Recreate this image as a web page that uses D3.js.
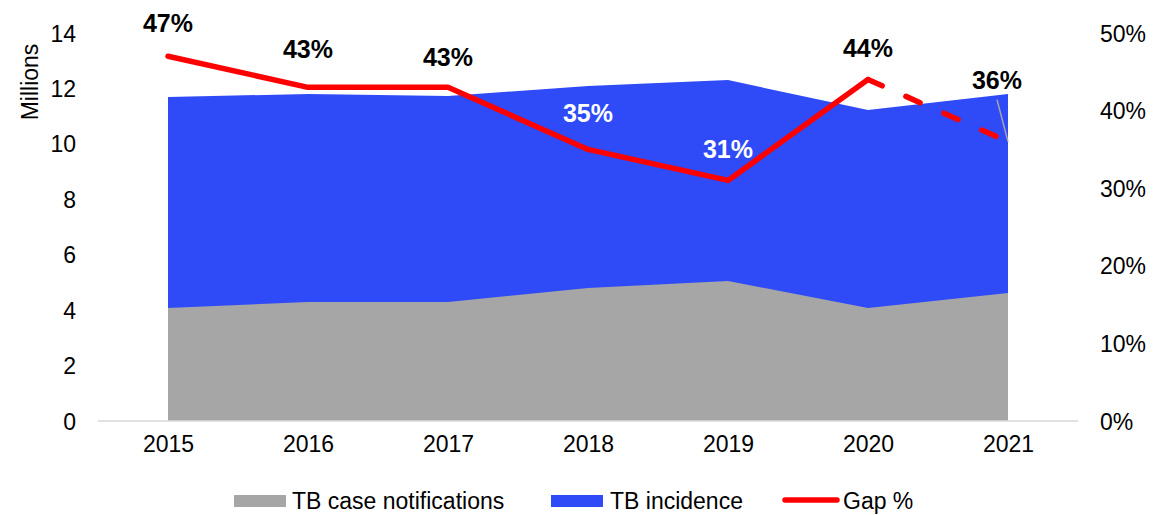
<!DOCTYPE html>
<html>
<head>
<meta charset="utf-8">
<script src="https://cdn.jsdelivr.net/npm/d3@7/dist/d3.min.js"></script>
<style>
  html, body { margin: 0; padding: 0; background: #fff; }
  svg { display: block; font-family: "Liberation Sans", Arial, sans-serif; }
</style>
</head>
<body>
<svg id="chart" width="1153" height="515"></svg>
<script>
// TB notifications vs. estimated incidence (millions), with the detection gap
const years = ["2015", "2016", "2017", "2018", "2019", "2020", "2021"];
const notifications = [4.08, 4.29, 4.29, 4.80, 5.05, 4.08, 4.62];
const incidence = [11.69, 11.80, 11.73, 12.09, 12.30, 11.22, 11.80];
const gapPct = [47, 43, 43, 35, 31, 44, 36];
const leftTicks = [0, 2, 4, 6, 8, 10, 12, 14];
const rightTicks = [0, 10, 20, 30, 40, 50];

const svg = d3.select("#chart");
const plot = { left: 98, right: 1078, top: 33, bottom: 421 };
const FS = 23;      // axis / legend text size
const FS_LBL = 25;  // data label size

const COLORS = {
  notif: "#a6a6a6",
  inc: "#2f4bf8",
  gap: "#ff0000",
  axis: "#d9d9d9",
  text: "#000"
};

const x = d3.scalePoint().domain(years).range([plot.left, plot.right]).padding(0.5);
const y = d3.scaleLinear().domain([0, 14]).range([plot.bottom, plot.top]);
const y2 = d3.scaleLinear().domain([0, 50]).range([plot.bottom, plot.top]);

const rows = years.map((yr, i) => ({ yr, n: notifications[i], inc: incidence[i], g: gapPct[i] }));

// incidence area (drawn behind), notifications area on top
const areaInc = d3.area().x(d => x(d.yr)).y0(y(0)).y1(d => y(d.inc));
const areaNot = d3.area().x(d => x(d.yr)).y0(y(0)).y1(d => y(d.n));
svg.append("path").datum(rows).attr("d", areaInc).attr("fill", COLORS.inc);
svg.append("path").datum(rows).attr("d", areaNot).attr("fill", COLORS.notif);

// category baseline
svg.append("line")
  .attr("x1", plot.left).attr("x2", plot.right)
  .attr("y1", plot.bottom).attr("y2", plot.bottom)
  .attr("stroke", COLORS.axis).attr("stroke-width", 1.5);

function styleTicks(g) {
  g.select(".domain").remove();
  g.selectAll("text").attr("font-size", FS).attr("fill", COLORS.text)
    .attr("font-family", "'Liberation Sans', Arial, sans-serif");
}

// left axis
const gy = svg.append("g").attr("transform", "translate(76,0)")
  .call(d3.axisLeft(y).tickValues(leftTicks).tickSize(0).tickPadding(0));
styleTicks(gy);
gy.selectAll("text").attr("dy", "0.35em");

// right axis
const gy2 = svg.append("g").attr("transform", "translate(1100,0)")
  .call(d3.axisRight(y2).tickValues(rightTicks).tickSize(0).tickPadding(0).tickFormat(d => d + "%"));
styleTicks(gy2);
gy2.selectAll("text").attr("dy", "0.35em");

// bottom axis
const gx = svg.append("g").attr("transform", `translate(0,${plot.bottom})`)
  .call(d3.axisBottom(x).tickSize(0).tickPadding(0));
styleTicks(gx);
gx.selectAll("text").attr("dy", "1.35em");

// y title
svg.append("text")
  .attr("transform", "translate(38,82) rotate(-90)")
  .attr("text-anchor", "middle")
  .attr("font-size", FS)
  .text("Millions");

// gap line: solid through 2020, dashed for 2021
const line = d3.line().x(d => x(d.yr)).y(d => y2(d.g));
svg.append("path").datum(rows.slice(0, 6)).attr("d", line)
  .attr("fill", "none").attr("stroke", COLORS.gap).attr("stroke-width", 5.5)
  .attr("stroke-linejoin", "round").attr("stroke-linecap", "round");
svg.append("path").datum(rows.slice(5)).attr("d", line)
  .attr("fill", "none").attr("stroke", COLORS.gap).attr("stroke-width", 5.5)
  .attr("stroke-dasharray", "15.5 26").attr("stroke-linecap", "round");

// value labels (offsets relative to each point)
const labelPos = [
  { dx: 0, dy: -24, c: "#000" },
  { dx: 0, dy: -29, c: "#000" },
  { dx: 0, dy: -21, c: "#000" },
  { dx: 0, dy: -27, c: "#fff" },
  { dx: 0, dy: -22, c: "#fff" },
  { dx: 0, dy: -23, c: "#000" },
  { dx: -11, dy: -53, c: "#000" }
];
svg.append("g").selectAll("text").data(rows).join("text")
  .attr("x", (d, i) => x(d.yr) + labelPos[i].dx)
  .attr("y", (d, i) => y2(d.g) + labelPos[i].dy)
  .attr("text-anchor", "middle")
  .attr("font-size", FS_LBL).attr("font-weight", "bold")
  .attr("fill", (d, i) => labelPos[i].c)
  .text(d => d.g + "%");

// leader line for the 2021 label
const last = rows[6];
svg.append("line")
  .attr("x1", x(last.yr) - 11).attr("y1", y2(last.g) - 42)
  .attr("x2", x(last.yr)).attr("y2", y2(last.g))
  .attr("stroke", "#a6a6a6").attr("stroke-width", 1.5);

// legend
const legendY = 501;
const legend = svg.append("g");
legend.append("rect").attr("x", 234).attr("y", legendY - 6).attr("width", 52).attr("height", 12).attr("fill", COLORS.notif);
legend.append("text").attr("x", 292).attr("y", legendY).attr("dy", "0.35em").attr("font-size", FS).text("TB case notifications");
legend.append("rect").attr("x", 551).attr("y", legendY - 6).attr("width", 52).attr("height", 12).attr("fill", COLORS.inc);
legend.append("text").attr("x", 610).attr("y", legendY).attr("dy", "0.35em").attr("font-size", FS).text("TB incidence");
legend.append("line").attr("x1", 785).attr("x2", 837).attr("y1", legendY - 1).attr("y2", legendY - 1)
  .attr("stroke", COLORS.gap).attr("stroke-width", 5.5).attr("stroke-linecap", "round");
legend.append("text").attr("x", 843).attr("y", legendY).attr("dy", "0.35em").attr("font-size", FS).text("Gap %");
</script>
</body>
</html>
